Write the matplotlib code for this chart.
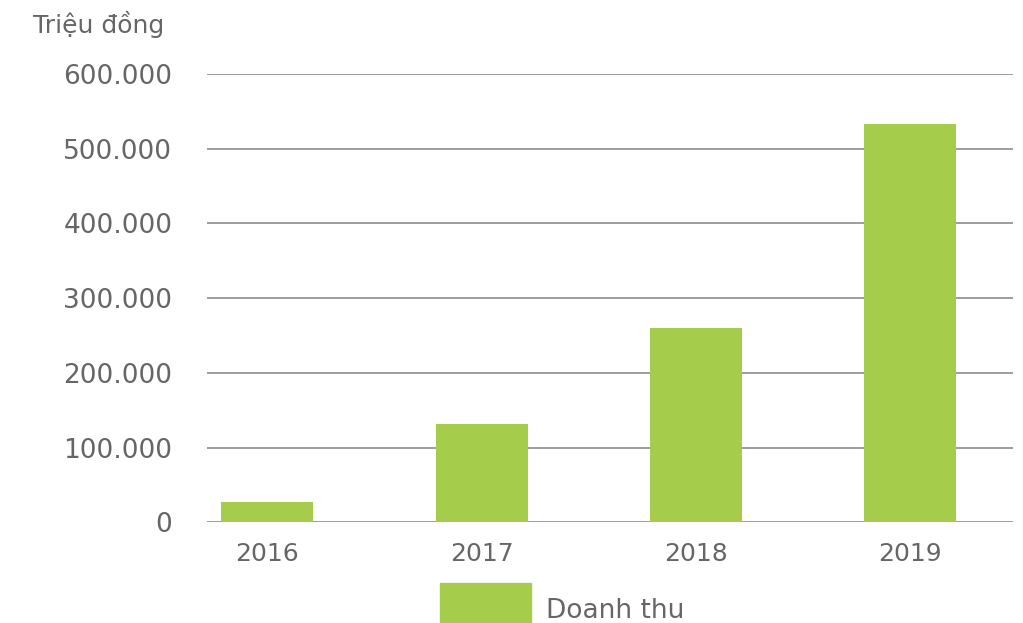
import matplotlib.pyplot as plt
from matplotlib.patches import Rectangle

# --- Data ---
YEARS = ["2016", "2017", "2018", "2019"]
REVENUE = [27000, 132000, 260000, 533000]  # triệu đồng
Y_TICKS = [0, 100000, 200000, 300000, 400000, 500000, 600000]
Y_TICK_LABELS = ["0", "100.000", "200.000", "300.000", "400.000", "500.000", "600.000"]

BAR_COLOR = "#a5cd4b"
TEXT_COLOR = "#666666"
GRID_COLOR = "#8c8c8c"

plt.rcParams["font.family"] = ["DejaVu Sans"]

fig = plt.figure(figsize=(10.23, 6.23), dpi=100)
ax = fig.add_axes([0.2023, 0.1616, 0.7877, 0.7196])

x = range(len(YEARS))
ax.bar(x, REVENUE, width=0.43, color=BAR_COLOR, zorder=3)

ax.set_xlim(-0.282, 3.478)
ax.set_ylim(0, 600000)
ax.set_yticks(Y_TICKS)
ax.set_yticklabels(Y_TICK_LABELS)
ax.set_xticks(list(x))
ax.set_xticklabels(YEARS)

ax.grid(axis="y", color=GRID_COLOR, linewidth=1.2, zorder=0)
ax.tick_params(axis="y", length=0, pad=25, labelsize=19, labelcolor=TEXT_COLOR)
ax.tick_params(axis="x", length=0, pad=14, labelsize=18, labelcolor=TEXT_COLOR)
for s in ax.spines.values():
    s.set_visible(False)

fig.text(33 / 1023, 1 - 25 / 623, "Triệu đồng", fontsize=18, color=TEXT_COLOR,
         ha="left", va="center")

# legend drawn by hand (it runs off the bottom edge in the reference)
fig.patches.append(Rectangle((440 / 1023, 0), 91 / 1023, 40 / 623,
                             transform=fig.transFigure, color=BAR_COLOR))
fig.text(546 / 1023, 1 - 611 / 623, "Doanh thu", fontsize=19, color=TEXT_COLOR,
         ha="left", va="center")

fig.savefig("out.png", dpi=100)
